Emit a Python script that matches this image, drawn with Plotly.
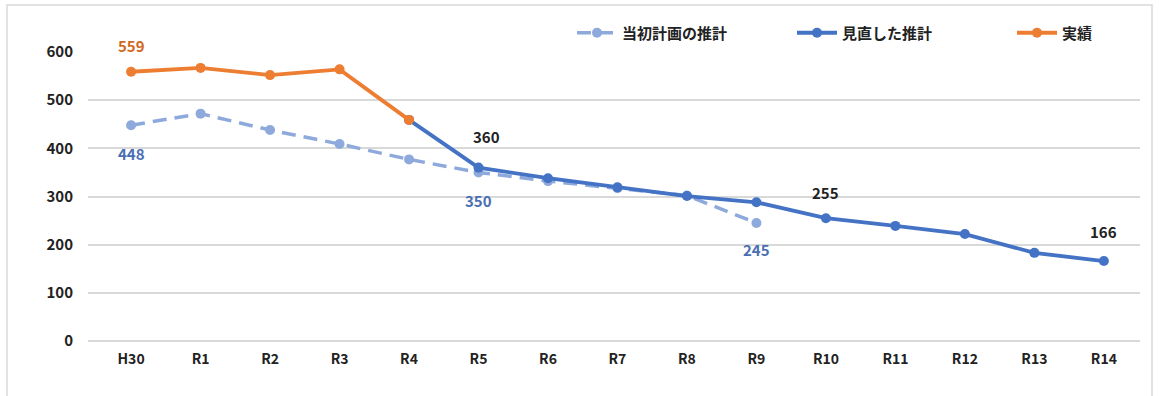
import plotly.graph_objects as go

# Fiscal years (H30 = 2018, R1 = 2019, ...)
years = ["H30", "R1", "R2", "R3", "R4", "R5", "R6", "R7",
         "R8", "R9", "R10", "R11", "R12", "R13", "R14"]

# 当初計画の推計 (H30–R9)
plan_years = years[:10]
plan_values = [448, 472, 438, 409, 377, 350, 332, 317, 302, 245]

# 見直した推計 (R4–R14)
revised_years = years[4:]
revised_values = [459, 360, 338, 319, 301, 288, 255, 239, 222, 183, 166]

# 実績 (H30–R4)
actual_years = years[:5]
actual_values = [559, 567, 552, 564, 459]

y_ticks = [0, 100, 200, 300, 400, 500, 600]

FONT = "Noto Sans CJK JP"
C_PLAN = "#8EA9DB"
C_REV = "#4472C4"
C_ACT = "#ED7D31"

fig = go.Figure()
fig.add_trace(go.Scatter(
    x=plan_years, y=plan_values, name="当初計画の推計", mode="lines+markers",
    line=dict(color=C_PLAN, width=3.5, dash="14px,8px"),
    marker=dict(color=C_PLAN, size=10),
))
fig.add_trace(go.Scatter(
    x=revised_years, y=revised_values, name="見直した推計", mode="lines+markers",
    line=dict(color=C_REV, width=3.8),
    marker=dict(color=C_REV, size=10),
))
fig.add_trace(go.Scatter(
    x=actual_years, y=actual_values, name="実績", mode="lines+markers",
    line=dict(color=C_ACT, width=3.8),
    marker=dict(color=C_ACT, size=10),
))

# value labels: (x, y, color, xshift, yshift)
labels = [
    (actual_years[0], actual_values[0], "#D2691E", 0, 26),
    (plan_years[0], plan_values[0], "#4A6EB3", 0, -28),
    (plan_years[5], plan_values[5], "#4A6EB3", 0, -28),
    (plan_years[9], plan_values[9], "#4A6EB3", 0, -27),
    (revised_years[1], revised_values[1], "#222222", 8, 31),
    (revised_years[6], revised_values[6], "#222222", 0, 26),
    (revised_years[10], revised_values[10], "#222222", 0, 30),
]
for x, y, c, xs, ys in labels:
    fig.add_annotation(
        x=x, y=y, text=str(y), showarrow=False, xshift=xs, yshift=ys,
        font=dict(family=FONT, size=15, color=c, weight="bold"),
    )

# outer frame
fig.add_shape(
    type="rect", xref="paper", yref="paper",
    x0=(7 - 88) / 1052, x1=(1152 - 88) / 1052,
    y0=(341 - 400) / 289, y1=(341 - 5) / 289,
    line=dict(color="#D9D9D9", width=1.5), layer="below",
)

fig.update_layout(
    width=1159, height=396,
    margin=dict(l=88, r=19, t=52, b=55, autoexpand=False),
    paper_bgcolor="white", plot_bgcolor="white",
    font=dict(family=FONT, size=14, color="#222222"),
    showlegend=True,
    legend=dict(
        orientation="h", x=(572 - 88) / 1052, y=(341 - 33) / 289,
        xanchor="left", yanchor="middle",
        font=dict(family=FONT, size=15, color="#222222", weight="bold"),
        entrywidth=165, itemwidth=40, bgcolor="rgba(0,0,0,0)",
    ),
    xaxis=dict(
        type="category", categoryorder="array", categoryarray=years,
        range=[-0.62, 14.52], showgrid=False, zeroline=False,
        showline=False, ticks="", ticklabelstandoff=8,
        tickfont=dict(family=FONT, size=14, color="#222222", weight="bold"),
    ),
    yaxis=dict(
        range=[0, 600], tickvals=y_ticks, showgrid=True,
        gridcolor="#D9D9D9", gridwidth=1.5, zeroline=True,
        zerolinecolor="#D9D9D9", zerolinewidth=1.5,
        showline=False, ticks="", ticklabelstandoff=14,
        tickfont=dict(family=FONT, size=15, color="#222222", weight="bold"),
    ),
)

fig.write_html("out.html")
